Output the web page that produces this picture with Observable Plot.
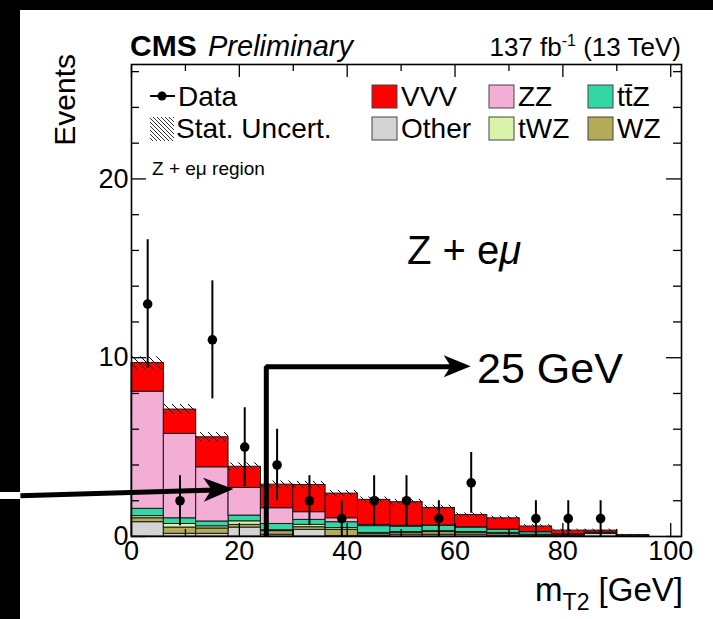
<!DOCTYPE html>
<html>
<head>
<meta charset="utf-8">
<script src="https://cdn.jsdelivr.net/npm/d3@7"></script>
<script src="https://cdn.jsdelivr.net/npm/@observablehq/plot@0.6"></script>
<style>
  html, body { margin: 0; padding: 0; background: #fff; }
  #wrap { position: relative; width: 713px; height: 619px; overflow: hidden; background: #fff; }
  .band { position: absolute; background: #000; z-index: 2; }
  #chart { position: absolute; left: 0; top: 0; z-index: 1; }
</style>
</head>
<body>
<div id="wrap">
  <svg width="0" height="0" style="position:absolute">
    <defs>
      <pattern id="hatch" patternUnits="userSpaceOnUse" width="8" height="8">
        <path d="M0,0L8,8M-2,6L2,10M6,-2L10,2" stroke="#000" stroke-width="1"/>
      </pattern>
      <pattern id="hatchLeg" patternUnits="userSpaceOnUse" width="4" height="4">
        <path d="M0,0L4,4M-1,3L1,5M3,-1L5,1" stroke="#000" stroke-width="0.8"/>
      </pattern>
    </defs>
  </svg>
  <div class="band" style="left:0;top:0;width:713px;height:10px"></div>
  <div class="band" style="left:0;top:0;width:20px;height:619px"></div>
  <div class="band" style="left:0;top:492px;width:20px;height:7px;background:#fff"></div>
  <div id="chart"></div>
</div>
<script>
// ---------- data ----------
const binEdges = [0, 6, 12, 18, 24, 30, 36, 42, 48, 54, 60, 66, 72, 78, 84, 90, 96, 102];
const processes = ["Other", "WZ", "tWZ", "ttZ", "ZZ", "VVV"];
const processColors = ["#d4d4d4", "#b3ab58", "#d9f3a8", "#33d7a6", "#f3aed5", "#ff0000"];
const otherYield = [0.80, 0.15, 0.15, 0.50, 0.10, 0.37, 0.02, 0.05, 0.10, 0.10, 0.10, 0.05, 0.05, 0.02, 0.15, 0.02, 0];
const wzYield    = [0.22, 0.35, 0.30, 0.15, 0.20, 0.15, 0.35, 0.10, 0.10, 0.15, 0.10, 0.10, 0.03, 0.02, 0.02, 0.01, 0];
const twzYield   = [0.12, 0.20, 0.12, 0.20, 0.05, 0.13, 0.10, 0.05, 0.05, 0.05, 0.05, 0.05, 0.02, 0.02, 0.02, 0.01, 0];
const ttzYield   = [0.41, 0.32, 0.27, 0.32, 0.35, 0.28, 0.33, 0.38, 0.30, 0.30, 0.25, 0.18, 0.14, 0.05, 0.03, 0.01, 0];
const zzYield    = [6.55, 4.72, 3.03, 1.55, 0.88, 0.43, 0.22, 0.07, 0.05, 0.02, 0.02, 0.01, 0.01, 0.01, 0, 0, 0];
const vvvYield   = [1.60, 1.36, 1.68, 1.18, 1.32, 1.52, 1.38, 1.40, 1.32, 0.98, 0.68, 0.63, 0.31, 0.21, 0.11, 0.03, 0];
const statUnc    = [0.35, 0.28, 0.26, 0.22, 0.20, 0.20, 0.18, 0.16, 0.16, 0.15, 0.12, 0.12, 0.10, 0.08, 0.08, 0.04, 0];

const dataX  = [3, 9, 15, 21, 27, 33, 39, 45, 51, 57, 63, 75, 81, 87];
const dataY  = [13, 2, 11, 5, 4, 2, 1, 2, 2, 1, 3, 1, 1, 1];
const dataLo = [9.4, 0.6, 7.7, 2.8, 2.0, 0.6, 0, 0.6, 0.6, 0, 1.3, 0, 0, 0];
const dataHi = [16.6, 3.4, 14.3, 7.2, 6.0, 3.4, 2, 3.4, 3.4, 2, 4.7, 2, 2, 2];

const xMajorTicks = [0, 20, 40, 60, 80, 100];
const xMinorTicks = [10, 30, 50, 70, 90];
const yMajorTicks = [0, 10, 20];
const yMinorTicks = [2, 4, 6, 8, 12, 14, 16, 18, 22, 24, 26];

const legendRow1 = ["VVV", "ZZ", "ttZ"];
const legendRow2 = ["Other", "tWZ", "WZ"];
const legendText = {VVV: "VVV", ZZ: "ZZ", ttZ: "tt\u0304Z", Other: "Other", tWZ: "tWZ", WZ: "WZ"};

// annotation (in data coordinates): the 25 GeV cut marker and a pointer arrow
const cutPath = [{x: 25, y: 0}, {x: 25, y: 9.5}, {x: 59.5, y: 9.5}];
const cutArrowTip = {x: 63.0, y: 9.5};
const pointerPath = [{x: -20.6, y: 2.28}, {x: 15.5, y: 2.6}];
const pointerTip = {x: 19.0, y: 2.63};

// ---------- build tables ----------
const yields = [otherYield, wzYield, twzYield, ttzYield, zzYield, vvvYield];
const stackRows = [];
processes.forEach((p, k) => {
  yields[k].forEach((v, i) => stackRows.push({process: p, x1: binEdges[i], x2: binEdges[i + 1], value: v}));
});
const bins = binEdges.slice(0, -1).map((e, i) => {
  const total = yields.reduce((s, arr) => s + arr[i], 0);
  return {x1: e, x2: binEdges[i + 1], lo: total - statUnc[i], hi: total + statUnc[i], unc: statUnc[i]};
}).filter(d => d.unc > 0);
const points = dataX.map((x, i) => ({x, y: dataY[i], lo: dataLo[i], hi: dataHi[i]}));

const FONT = "'Liberation Sans', Arial, Helvetica, sans-serif";
const W = 713, H = 619, ML = 131, MR = 32, MT = 64, MB = 83;
const FH = H - MT - MB, FW = W - ML - MR;

function arrowHead(g, tx, ty, angle, L, Wd, notch) {
  const c = Math.cos(angle), s = Math.sin(angle);
  const bx = tx - L * c, by = ty - L * s;
  const px = -s, py = c;
  const pts = [[tx, ty], [bx + Wd * px, by + Wd * py], [tx - (L - notch) * c, ty - (L - notch) * s], [bx - Wd * px, by - Wd * py]];
  g.append("polygon").attr("points", pts.map(p => p.join(",")).join(" ")).attr("fill", "#000");
}

function decorations(index, scales, values, dims) {
  const g = d3.create("svg:g").attr("font-family", FONT).attr("fill", "#000").attr("text-anchor", "start");
  // header
  g.append("text").attr("x", 130).attr("y", 56).attr("font-size", 30).attr("font-weight", "bold").text("CMS");
  g.append("text").attr("x", 208).attr("y", 56).attr("font-size", 29).attr("font-style", "italic").text("Preliminary");
  const lumi = g.append("text").attr("x", 681).attr("y", 56).attr("font-size", 26).attr("text-anchor", "end");
  lumi.append("tspan").text("137 fb");
  lumi.append("tspan").attr("dy", -10).attr("font-size", 16).text("-1");
  lumi.append("tspan").attr("dy", 10).text(" (13 TeV)");
  // axis titles
  g.append("text").attr("transform", "translate(75,54) rotate(-90)").attr("text-anchor", "end").attr("font-size", 30).text("Events");
  const xt = g.append("text").attr("x", 683).attr("y", 601).attr("font-size", 33).attr("text-anchor", "end");
  xt.append("tspan").text("m");
  xt.append("tspan").attr("dy", 9).attr("font-size", 23).text("T2");
  xt.append("tspan").attr("dy", -9).text(" [GeV]");
  // region label
  g.append("text").attr("x", 152).attr("y", 175).attr("font-size", 19).text("Z + e\u03bc region");
  // legend
  const lg = g.append("g");
  lg.append("line").attr("x1", 150).attr("x2", 175).attr("y1", 96).attr("y2", 96).attr("stroke", "#000").attr("stroke-width", 2);
  lg.append("circle").attr("cx", 162).attr("cy", 96).attr("r", 4.5).attr("fill", "#000");
  lg.append("text").attr("x", 178).attr("y", 106).attr("font-size", 28).text("Data");
  lg.append("rect").attr("x", 150).attr("y", 117).attr("width", 24).attr("height", 24).attr("fill", "url(#hatchLeg)");
  lg.append("text").attr("x", 176).attr("y", 138).attr("font-size", 28).text("Stat. Uncert.");
  const colX = [372, 489, 588];
  const color = scales.color;
  [[legendRow1, 85, 106], [legendRow2, 117, 138]].forEach(([row, top, base]) => {
    row.forEach((p, j) => {
      lg.append("rect").attr("x", colX[j]).attr("y", top).attr("width", 25).attr("height", 23)
        .attr("fill", color(p)).attr("stroke", "#444").attr("stroke-width", 1);
      lg.append("text").attr("x", colX[j] + 29).attr("y", base).attr("font-size", 28).text(legendText[p]);
    });
  });
  // annotations
  const big = g.append("text").attr("x", 407).attr("y", 264).attr("font-size", 40);
  big.append("tspan").text("Z + e");
  big.append("tspan").attr("font-style", "italic").text("\u03bc");
  g.append("text").attr("x", 477).attr("y", 383).attr("font-size", 43).text("25 GeV");
  arrowHead(g, scales.x(cutArrowTip.x), scales.y(cutArrowTip.y), 0, 27, 11, 7);
  const a0 = pointerPath[0];
  const ang = Math.atan2(scales.y(pointerTip.y) - scales.y(a0.y), scales.x(pointerTip.x) - scales.x(a0.x));
  arrowHead(g, scales.x(pointerTip.x), scales.y(pointerTip.y), ang, 30, 12, 8);
  return g.node();
}

const chart = Plot.plot({
  width: W, height: H,
  marginLeft: ML, marginRight: MR, marginTop: MT, marginBottom: MB,
  x: {domain: [0, 102]},
  y: {domain: [0, 26.4]},
  color: {domain: processes, range: processColors},
  style: {fontFamily: FONT, fontSize: "27px", color: "#000", background: "transparent", overflow: "visible"},
  marks: [
    Plot.rectY(stackRows, {x1: "x1", x2: "x2", y: "value", fill: "process", stroke: "#1a1a1a", strokeWidth: 1}),
    Plot.rect(bins, {x1: "x1", x2: "x2", y1: "lo", y2: "hi", fill: "url(#hatch)"}),
    Plot.line(cutPath, {x: "x", y: "y", stroke: "#000", strokeWidth: 5, strokeLinejoin: "miter", strokeLinecap: "butt"}),
    Plot.line(pointerPath, {x: "x", y: "y", stroke: "#000", strokeWidth: 5, strokeLinecap: "butt"}),
    Plot.ruleX(points, {x: "x", y1: "lo", y2: "hi", stroke: "#000", strokeWidth: 2}),
    Plot.dot(points, {x: "x", y: "y", r: 4.8, fill: "#000", stroke: null}),
    Plot.ruleX(xMajorTicks, {insetTop: FH - 13, stroke: "#000", strokeWidth: 1.3}),
    Plot.ruleX(xMajorTicks, {insetBottom: FH - 13, stroke: "#000", strokeWidth: 1.3}),
    Plot.ruleX(xMinorTicks, {insetTop: FH - 7, stroke: "#000", strokeWidth: 1.3}),
    Plot.ruleX(xMinorTicks, {insetBottom: FH - 7, stroke: "#000", strokeWidth: 1.3}),
    Plot.ruleY(yMajorTicks, {insetRight: FW - 15, stroke: "#000", strokeWidth: 1.3}),
    Plot.ruleY(yMajorTicks, {insetLeft: FW - 15, stroke: "#000", strokeWidth: 1.3}),
    Plot.ruleY(yMinorTicks, {insetRight: FW - 8, stroke: "#000", strokeWidth: 1.3}),
    Plot.ruleY(yMinorTicks, {insetLeft: FW - 8, stroke: "#000", strokeWidth: 1.3}),
    Plot.frame({stroke: "#000", strokeWidth: 1.6}),
    Plot.axisX({ticks: xMajorTicks, tickSize: 0, tickPadding: 4, label: null, fontSize: 27, tickFormat: d => String(d)}),
    Plot.axisY({ticks: yMajorTicks, tickSize: 0, tickPadding: 3, label: null, fontSize: 27, tickFormat: d => String(d)}),
    decorations
  ]
});
document.getElementById("chart").appendChild(chart);
</script>
</body>
</html>
